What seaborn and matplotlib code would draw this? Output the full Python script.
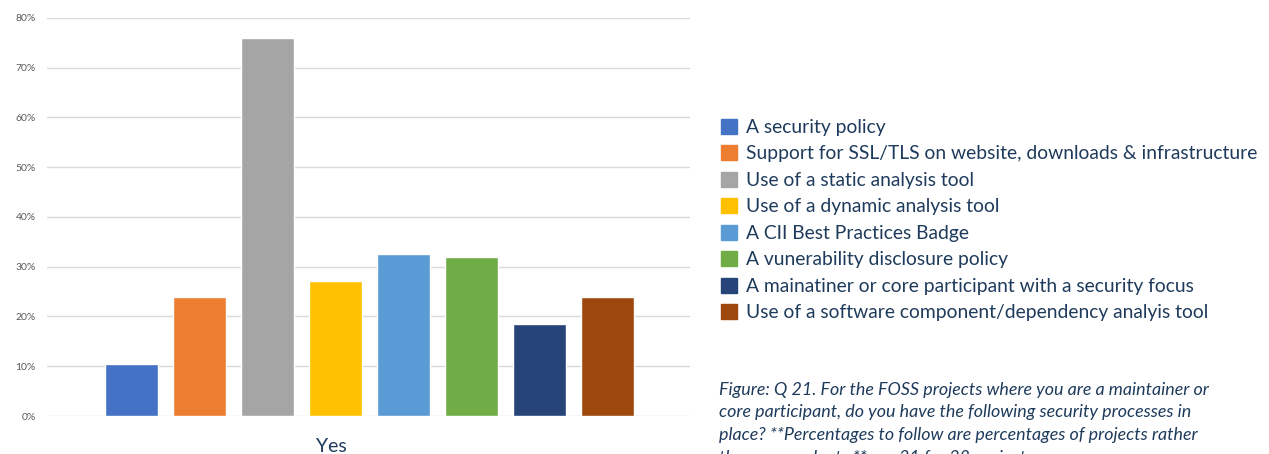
import pandas as pd
import matplotlib
matplotlib.use("Agg")
import matplotlib.pyplot as plt
import seaborn as sns
from matplotlib.ticker import PercentFormatter

sns.set_style("white")
plt.rcParams["font.family"] = ["Lato", "DejaVu Sans"]

# ============================================================
# DATA
# ============================================================

category = "Yes"
processes = [
    "A security policy",
    "Support for SSL/TLS on website, downloads & infrastructure",
    "Use of a static analysis tool",
    "Use of a dynamic analysis tool",
    "A CII Best Practices Badge",
    "A vunerability disclosure policy",
    "A mainatiner or core participant with a security focus",
    "Use of a software component/dependency analyis tool",
]
shares = [0.104, 0.239, 0.760, 0.272, 0.326, 0.320, 0.185, 0.239]
colors = ["#4472C4", "#ED7D31", "#A5A5A5", "#FFC000",
          "#5B9BD5", "#70AD47", "#264478", "#9E480E"]
yticks = [0, 0.1, 0.2, 0.3, 0.4, 0.5, 0.6, 0.7, 0.8]

caption = ("Figure: Q 21. For the FOSS projects where you are a maintainer or\n"
           "core participant, do you have the following security processes in\n"
           "place? **Percentages to follow are percentages of projects rather\n"
           "than respondents.** n = 31 for 28 projects")

df = pd.DataFrame({"answer": [category] * len(processes),
                   "process": processes,
                   "share": shares})

navy = "#1F3B5C"

# ============================================================
# PLOT
# ============================================================

fig = plt.figure(figsize=(12.69, 4.54), dpi=100)
ax = fig.add_axes([0.037, 0.0837, 0.5067, 0.8767])

sns.barplot(data=df, x="answer", y="share", hue="process",
            hue_order=processes, palette=colors, width=0.8, gap=0.23,
            saturation=1, legend=False, ax=ax)

ax.set_ylim(0, 0.8)
ax.set_xlim(-0.474, 0.471)
ax.set_yticks(yticks)
ax.yaxis.set_major_formatter(PercentFormatter(1.0, decimals=0))
ax.tick_params(axis="y", labelsize=7.5, labelcolor="#595959", length=0, pad=8)
ax.grid(axis="y", color="#D9D9D9", linewidth=1)
ax.set_axisbelow(True)
for s in ax.spines.values():
    s.set_visible(False)
ax.set_xticks([])
ax.set_xlabel("")
ax.set_ylabel("")
fig.text(331 / 1269, 1 - 446 / 454, category, ha="center", va="center",
         fontsize=14, color=navy)

# legend
handles = [plt.Rectangle((0, 0), 1, 1, color=c) for c in colors]
fig.legend(handles, processes, loc="upper left",
           bbox_to_anchor=(713 / 1269, 1 - 111 / 454), frameon=False,
           fontsize=13.9, labelcolor=navy, handlelength=0.82,
           handleheight=0.82, handletextpad=0.5, labelspacing=0.48,
           borderaxespad=0)

fig.text(719 / 1269, 1 - 382 / 454, caption, ha="left", va="top",
         fontsize=12.9, style="italic", color=navy, linespacing=1.5)

plt.savefig("out.png", dpi=100)
plt.close()
